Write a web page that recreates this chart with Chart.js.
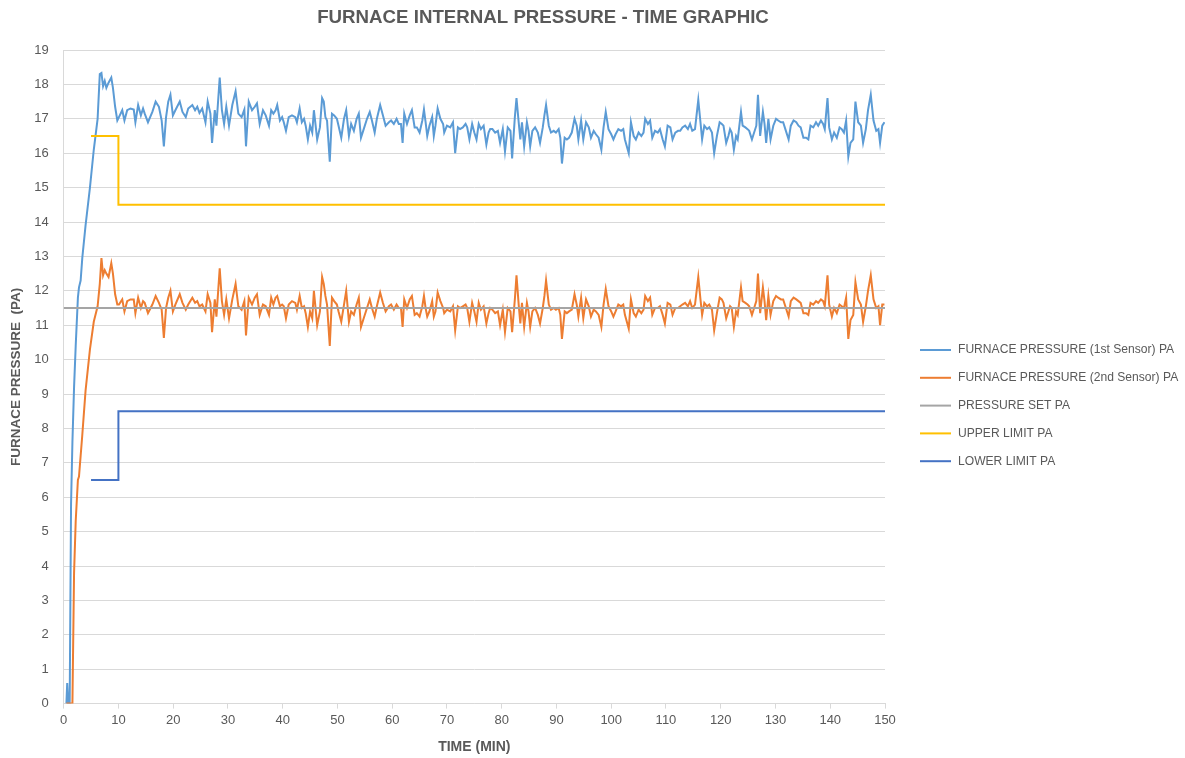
<!DOCTYPE html>
<html>
<head>
<meta charset="utf-8">
<script src="https://cdn.jsdelivr.net/npm/chart.js@4/dist/chart.umd.min.js"></script>
<style>
  html, body { margin: 0; padding: 0; background: #fff; }
  #wrap { width: 1185px; height: 758px; }
</style>
</head>
<body>
<div id="wrap"><canvas id="chart"></canvas></div>
<script>
// time stamps (min) shared by both sensors
const minutes = [
  0.5, 0.65, 0.75, 0.85, 1.1, 1.35, 1.6, 1.9, 2.2, 2.6, 2.8, 3.1, 3.4, 4.0, 4.8, 5.5, 6.2, 6.6, 6.9, 7.2, 7.5, 7.8, 8.2, 8.7, 9.0, 9.4, 9.8,
  10.1, 10.7, 11.1, 11.6, 12.2, 12.8, 13.1, 13.6, 14.1, 14.5, 14.8, 15.4, 16.2, 16.8, 17.4, 17.9, 18.3, 18.7, 19.1, 19.5,
  19.95, 20.4, 21.2, 21.7, 22.3, 22.75, 23.5, 24.0, 24.4, 24.8, 25.3, 25.9, 26.3, 26.8, 27.1, 27.6, 27.9, 28.5, 28.9, 29.3,
  29.7, 30.2, 30.8, 31.4, 31.9, 32.5, 33.0, 33.3, 33.8, 34.4, 34.9, 35.3, 35.8, 36.4, 36.9, 37.5, 37.9, 38.3, 38.7, 39.0,
  39.5, 39.9, 40.2, 40.6, 41.1, 41.7, 42.3, 42.6, 43.1, 43.5, 43.9, 44.2, 44.6, 45.0, 45.4, 45.7, 46.3, 46.8, 47.2, 47.5,
  47.8, 48.1, 48.6, 49.0, 49.4, 49.9, 50.2, 50.7, 51.2, 51.6, 52.1, 52.5, 53.0, 53.5, 53.9, 54.3, 54.8, 55.4, 55.9, 56.3,
  56.8, 57.2, 57.8, 58.3, 58.8, 59.4, 59.8, 60.3, 60.8, 61.2, 61.6, 61.9, 62.2, 62.7, 63.2, 63.6, 64.1, 64.5, 65.0, 65.5,
  65.8, 66.1, 66.4, 66.8, 67.3, 67.6, 67.9, 68.3, 68.8, 69.3, 69.5, 70.0, 70.6, 71.1, 71.5, 72.0, 72.4, 72.9, 73.4, 73.7,
  74.1, 74.6, 75.0, 75.4, 75.8, 76.2, 76.7, 77.2, 77.6, 77.9, 78.3, 78.8, 79.3, 79.7, 80.2, 80.6, 81.1, 81.6, 81.9, 82.4,
  82.7, 83.1, 83.4, 83.7, 84.1, 84.6, 84.9, 85.2, 85.6, 86.1, 86.6, 87.0, 87.5, 87.8, 88.1, 88.6, 89.0, 89.5, 89.9, 90.4,
  90.7, 91.0, 91.5, 91.9, 92.3, 92.8, 93.3, 93.7, 94.0, 94.5, 94.9, 95.4, 95.9, 96.3, 96.8, 97.2, 97.7, 98.2, 98.6, 99.0,
  99.5, 100.0, 100.4, 100.8, 101.3, 101.8, 102.2, 102.5, 103.2, 103.6, 104.1, 104.5, 105.0, 105.5, 105.9, 106.2, 106.7, 107.1, 107.5, 108.0,
  108.5, 108.9, 109.4, 109.8, 110.3, 110.8, 111.2, 111.7, 112.2, 112.6, 113.0, 113.5, 114.0, 114.4, 114.8, 115.3, 115.9, 116.3, 116.6, 117.0,
  117.5, 117.9, 118.4, 118.8, 119.3, 119.8, 120.2, 120.5, 121.0, 121.4, 121.7, 122.0, 122.4, 122.8, 123.1, 123.7, 124.0, 124.5, 124.9, 125.2,
  125.7, 126.1, 126.5, 126.8, 127.2, 127.7, 128.0, 128.3, 128.7, 129.1, 129.6, 130.1, 130.5, 131.0, 131.4, 131.9, 132.4, 132.8, 133.3, 133.8,
  134.2, 134.6, 135.1, 135.6, 136.0, 136.4, 136.9, 137.4, 137.8, 138.3, 138.7, 139.0, 139.5, 139.8, 140.3, 140.7, 141.2, 141.7, 142.1, 142.5,
  142.9, 143.3, 143.7, 144.2, 144.6, 145.1, 145.6, 146.0, 146.5, 146.9, 147.4, 147.9, 148.4, 148.8, 149.1, 149.5, 149.9
];

const sensor1 = [
  0, 0.6, 0.6, 0, 0, 5.8, 7.6, 9.2, 10.4, 11.8, 12.1, 12.3, 12.95, 13.9, 15.0, 16.1, 17.0, 18.3, 18.33, 17.95, 18.1, 17.9, 18.05, 18.2, 17.9, 17.35, 16.95,
  17.05, 17.25, 16.95, 17.25, 17.3, 17.27, 16.9, 17.4, 17.1, 17.3, 17.15, 16.9, 17.2, 17.5, 17.35, 16.95, 16.2, 17.05, 17.5, 17.7,
  17.1, 17.25, 17.5, 17.2, 17.05, 17.3, 17.4, 17.25, 17.35, 17.17, 17.3, 16.9, 17.5, 17.15, 16.3, 17.25, 16.8, 18.2, 17.25, 16.85,
  17.35, 16.8, 17.4, 17.8, 17.15, 17.05, 17.27, 16.2, 17.5, 17.25, 17.35, 17.45, 16.85, 17.25, 17.1, 16.8, 17.25, 17.15, 17.25, 17.4,
  16.95, 17.05, 16.9, 16.65, 17.05, 17.1, 17.05, 16.9, 17.3, 16.9, 17.0, 16.8, 16.4, 16.8, 16.6, 17.25, 16.4, 16.75, 17.6, 17.5,
  17.05, 16.95, 15.75, 17.15, 17.1, 17.0, 16.8, 16.45, 17.0, 17.25, 16.5, 16.85, 16.65, 17.0, 17.15, 16.45, 16.7, 17.0, 17.2, 16.95,
  16.6, 17.0, 17.4, 17.1, 16.8, 16.9, 16.95, 16.85, 17.0, 16.85, 16.85, 16.3, 17.15, 16.85, 17.1, 17.25, 16.75, 16.75, 16.6, 16.95,
  17.27, 16.9, 16.5, 16.8, 17.05, 16.5, 16.8, 17.3, 17.0, 16.85, 16.6, 16.8, 16.75, 16.9, 16.0, 16.75, 16.7, 16.75, 16.85, 16.75,
  16.4, 16.85, 16.6, 16.4, 16.85, 16.7, 16.8, 16.25, 16.6, 16.7, 16.7, 16.6, 16.65, 16.3, 16.7, 16.05, 16.75, 16.65, 15.85, 17.05,
  17.6, 16.9, 16.4, 16.9, 16.2, 16.9, 16.65, 16.2, 16.65, 16.75, 16.6, 16.3, 16.75, 17.1, 17.4, 16.8, 16.6, 16.65, 16.6, 16.7,
  16.45, 15.7, 16.45, 16.4, 16.45, 16.6, 17.0, 16.8, 16.4, 16.95, 16.4, 16.9, 16.75, 16.45, 16.65, 16.55, 16.45, 16.1, 16.75, 17.2,
  16.7, 16.55, 16.4, 16.55, 16.7, 16.65, 16.7, 16.4, 16.0, 16.9, 16.5, 16.4, 16.6, 16.5, 16.6, 17.0, 16.85, 16.95, 16.45, 16.65,
  16.6, 16.7, 16.4, 16.2, 16.8, 16.75, 16.4, 16.6, 16.65, 16.65, 16.75, 16.8, 16.7, 16.85, 16.65, 16.7, 17.55, 16.9, 16.4, 16.8,
  16.7, 16.75, 16.6, 16.0, 16.5, 16.9, 16.85, 16.8, 16.3, 16.5, 16.7, 16.6, 16.1, 16.5, 16.4, 17.2, 16.8, 16.75, 16.7, 16.65,
  16.4, 16.6, 16.8, 17.7, 16.5, 17.2, 16.85, 16.3, 17.0, 16.4, 16.8, 17.0, 16.95, 16.9, 16.9, 16.65, 16.4, 16.8, 16.95, 16.9,
  16.8, 16.75, 16.45, 16.45, 16.4, 16.8, 16.75, 16.9, 16.8, 16.95, 16.85, 16.7, 17.6, 16.75, 16.4, 16.6, 16.45, 16.75, 16.7, 16.6,
  16.95, 15.9, 16.3, 16.4, 17.5, 16.9, 16.8, 16.3, 16.7, 17.25, 17.7, 16.95, 16.65, 16.7, 16.3, 16.8, 16.9
];

const sensor2 = [
  0, 0, 0, 0, 0, 0, 0, 3.8, 5.3, 6.5, 6.6, 7.2, 7.8, 9.1, 10.3, 11.1, 11.55, 12.2, 12.95, 12.45, 12.6, 12.5, 12.4, 12.8, 12.5, 11.9, 11.6,
  11.6, 11.75, 11.4, 11.7, 11.75, 11.75, 11.35, 11.8, 11.5, 11.7, 11.65, 11.35, 11.6, 11.85, 11.65, 11.45, 10.63, 11.5, 11.8, 12.0,
  11.4, 11.6, 11.9, 11.65, 11.45, 11.6, 11.8, 11.65, 11.7, 11.55, 11.6, 11.4, 11.9, 11.65, 10.8, 11.75, 11.25, 12.65, 11.7, 11.3,
  11.75, 11.2, 11.75, 12.2, 11.55, 11.45, 11.7, 10.7, 11.8, 11.6, 11.8, 11.9, 11.3, 11.6, 11.55, 11.3, 11.8, 11.6, 11.8, 11.85,
  11.55, 11.6, 11.55, 11.2, 11.6, 11.7, 11.65, 11.45, 11.85, 11.5, 11.55, 11.35, 10.95, 11.4, 11.2, 12.0, 11.0, 11.4, 12.4, 12.2,
  11.85, 11.6, 10.4, 11.8, 11.7, 11.6, 11.4, 11.1, 11.6, 12.0, 11.1, 11.4, 11.3, 11.6, 11.8, 10.95, 11.2, 11.5, 11.75, 11.5,
  11.25, 11.55, 11.95, 11.65, 11.4, 11.55, 11.6, 11.45, 11.6, 11.5, 11.5, 10.95, 11.75, 11.5, 11.75, 11.85, 11.3, 11.35, 11.25, 11.55,
  11.85, 11.5, 11.25, 11.4, 11.7, 11.25, 11.4, 11.95, 11.7, 11.5, 11.35, 11.45, 11.4, 11.55, 10.85, 11.55, 11.5, 11.55, 11.6, 11.5,
  11.1, 11.65, 11.4, 11.1, 11.65, 11.45, 11.55, 11.05, 11.35, 11.5, 11.45, 11.35, 11.4, 11.0, 11.45, 10.8, 11.5, 11.4, 10.8, 11.75,
  12.45, 11.6, 11.05, 11.65, 10.95, 11.65, 11.4, 10.95, 11.4, 11.5, 11.3, 11.05, 11.5, 11.85, 12.3, 11.6, 11.45, 11.5, 11.45, 11.5,
  11.3, 10.6, 11.4, 11.35, 11.4, 11.45, 11.9, 11.6, 11.25, 11.8, 11.2, 11.75, 11.55, 11.25, 11.45, 11.4, 11.3, 10.95, 11.6, 12.05,
  11.55, 11.4, 11.25, 11.4, 11.6, 11.55, 11.6, 11.3, 10.9, 11.75, 11.35, 11.25, 11.45, 11.35, 11.45, 11.85, 11.7, 11.8, 11.3, 11.5,
  11.5, 11.55, 11.3, 11.05, 11.65, 11.6, 11.3, 11.5, 11.5, 11.55, 11.6, 11.65, 11.55, 11.7, 11.5, 11.6, 12.4, 11.75, 11.3, 11.65,
  11.55, 11.6, 11.45, 10.85, 11.35, 11.8, 11.75, 11.65, 11.2, 11.4, 11.55, 11.5, 10.95, 11.4, 11.3, 12.1, 11.7, 11.65, 11.6, 11.55,
  11.3, 11.5, 11.7, 12.5, 11.35, 12.1, 11.7, 11.15, 11.85, 11.3, 11.7, 11.85, 11.8, 11.75, 11.75, 11.5, 11.25, 11.7, 11.8, 11.75,
  11.7, 11.65, 11.35, 11.35, 11.3, 11.65, 11.6, 11.7, 11.65, 11.75, 11.7, 11.55, 12.45, 11.6, 11.25, 11.5, 11.35, 11.6, 11.55, 11.5,
  11.8, 10.6, 11.15, 11.3, 12.25, 11.75, 11.6, 11.1, 11.55, 12.0, 12.45, 11.75, 11.5, 11.55, 11.0, 11.6, 11.6
];

const setTimes = [0, 150];
const setValues = [11.5, 11.5];
const limitTimes = [5, 10, 10, 150];
const upperValues = [16.5, 16.5, 14.5, 14.5];
const lowerValues = [6.5, 6.5, 8.5, 8.5];

const labels = [
  'FURNACE PRESSURE (1st Sensor) PA',
  'FURNACE PRESSURE (2nd Sensor) PA',
  'PRESSURE SET PA',
  'UPPER LIMIT PA',
  'LOWER LIMIT PA'
];
const colors = ['#5B9BD5', '#ED7D31', '#A5A5A5', '#FFC000', '#4472C4'];
const chartTitle = 'FURNACE INTERNAL PRESSURE - TIME GRAPHIC';

const pts = (xs, ys) => xs.map((x, i) => ({ x: x, y: ys[i] }));

const textGray = '#595959';
const fam = '"Liberation Sans", Arial, sans-serif';

// title (off-centre like the excel one) and the legend on the right
const decorations = {
  id: 'decorations',
  afterDraw(chart) {
    const ctx = chart.ctx;
    ctx.save();
    ctx.fillStyle = textGray;
    ctx.textAlign = 'center';
    ctx.textBaseline = 'middle';
    ctx.font = 'bold 18.7px ' + fam;
    ctx.fillText(chartTitle, 543, 18);

    ctx.textAlign = 'left';
    ctx.font = '12.1px ' + fam;
    chart.data.datasets.forEach((ds, i) => {
      const y = 350 + i * 27.8;
      ctx.strokeStyle = ds.borderColor;
      ctx.lineWidth = 2;
      ctx.beginPath();
      ctx.moveTo(920, y);
      ctx.lineTo(951, y);
      ctx.stroke();
      ctx.fillStyle = textGray;
      ctx.fillText(ds.label, 958, y);
    });
    ctx.restore();
  }
};

const series = [
  pts(minutes, sensor1),
  pts(minutes, sensor2),
  pts(setTimes, setValues),
  pts(limitTimes, upperValues),
  pts(limitTimes, lowerValues)
];

new Chart(document.getElementById('chart'), {
  type: 'line',
  data: {
    datasets: series.map((d, i) => ({
      label: labels[i],
      data: d,
      borderColor: colors[i],
      backgroundColor: colors[i],
      borderWidth: 2,
      pointRadius: 0,
      tension: 0,
      order: 5 - i
    }))
  },
  options: {
    responsive: true,
    maintainAspectRatio: false,
    animation: false,
    layout: { padding: { left: 6, right: 300, top: 50, bottom: 2 } },
    plugins: {
      legend: { display: false },
      tooltip: { enabled: false },
      title: { display: false }
    },
    scales: {
      x: {
        type: 'linear',
        min: 0,
        max: 150,
        ticks: { stepSize: 10, color: textGray, font: { family: fam, size: 13 }, padding: 4 },
        grid: { drawOnChartArea: false, drawTicks: true, tickLength: 5, color: '#D9D9D9' },
        border: { display: true, color: '#D9D9D9' },
        title: {
          display: true,
          text: 'TIME (MIN)',
          color: textGray,
          font: { family: fam, size: 14, weight: 'bold' },
          padding: { top: 7, bottom: 0 }
        }
      },
      y: {
        min: 0,
        max: 19,
        ticks: { stepSize: 1, color: textGray, font: { family: fam, size: 13 }, padding: 15 },
        grid: { color: '#D9D9D9', drawTicks: false },
        border: { display: true, color: '#D9D9D9' },
        title: {
          display: true,
          text: 'FURNACE PRESSURE  (PA)',
          color: textGray,
          font: { family: fam, size: 13.5, weight: 'bold' },
          padding: { top: 2, bottom: -5 }
        }
      }
    }
  },
  plugins: [decorations]
});
</script>
</body>
</html>
